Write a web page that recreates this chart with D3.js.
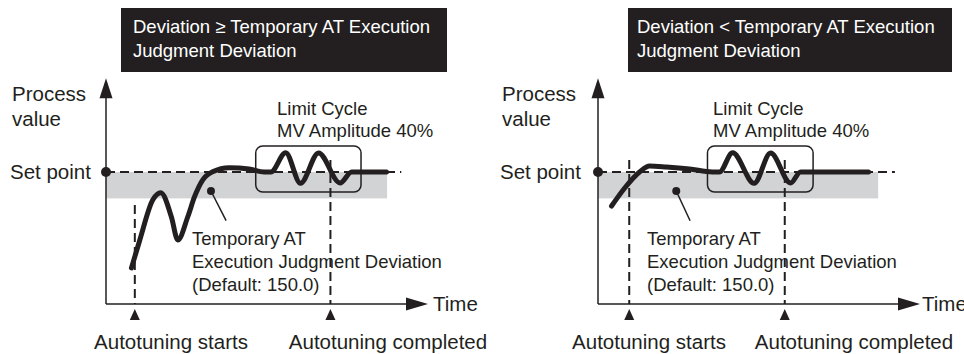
<!DOCTYPE html>
<html>
<head>
<meta charset="utf-8">
<script src="https://cdn.jsdelivr.net/npm/d3@7"></script>
<style>
  html, body { margin: 0; padding: 0; background: #ffffff; }
  svg { display: block; }
  text { font-family: "Liberation Sans", Arial, Helvetica, sans-serif; fill: #231f20; }
</style>
</head>
<body>
<svg id="chart" width="964" height="354"></svg>
<script>
// ---------------- DATA ----------------
// time axis 0..100, process value axis 0..100 (set point = 100)
const setPoint = 100;
const judgmentDeviation = 20;          // shaded band below set point
const axisTopValue = 171;              // where the process value arrow ends
const panelTitles = [
  ["Deviation \u2265 Temporary AT Execution", "Judgment Deviation"],
  ["Deviation < Temporary AT Execution", "Judgment Deviation"]
];
const yAxisLabel = ["Process", "value"];
const setPointLabel = "Set point";
const xAxisLabel = "Time";
const limitCycleLabel = ["Limit Cycle", "MV Amplitude 40%"];
const deviationLabel = ["Temporary AT", "Execution Judgment Deviation", "(Default: 150.0)"];
const startLabel = "Autotuning starts";
const completeLabel = "Autotuning completed";

// Process value curves (time, value)
const curveLeftTime  = [7.9, 10.5, 14.5, 17.0, 20.3, 22.3, 25.4, 27.5, 30.0, 33.1, 38.3, 44.4, 49.1, 51.2, 55.8, 60.4, 66.0, 72.7, 76.3, 87.1];
const curveLeftValue = [27.3, 48.5, 78.8, 84.3, 66.1, 48.5, 66.1, 81.3, 93.9, 100.2, 103.3, 102.3, 100, 100, 114.6, 91.4, 114.4, 91.7, 100, 100];
const curveRightTime  = [4.2, 8.3, 13.0, 16.0, 21.2, 28.4, 35.5, 37.7, 41.8, 48.5, 53.6, 59.8, 62.9, 84.0];
const curveRightValue = [74.2, 87.9, 100.2, 104.5, 103.8, 102.3, 100, 100, 114.6, 91.4, 114.4, 91.7, 100, 100];

// Autotuning start / completion times
const atStartTime    = [8.95, 9.7];
const atStartTop     = [75, 109];
const atCompleteTime = [69.7, 58.0];
const atCompleteTop  = [109, 109];

// Limit cycle box (time range) and value range
const limitBoxTime  = [[46.5, 79.2], [34.0, 66.8]];
const limitBoxValue = [84.8, 119.7];

// band and set-point line extents (time)
const bandEndTime = [87.3, 87.0];
const setLineEndTime = [91.7, 92.2];

// pointer from band to the deviation label (time, value)
const pointerFromTime = [32.6, 24.3];
const pointerToTime   = [37.3, 28.6];
const pointerFromValue = 85.6;
const pointerToValue   = 63.1;

// ---------------- LAYOUT ----------------
const ink = "#231f20";
const panels = [
  { x0: 106, titleBox: [121, 447], titleX: 133, labelX: 12, timeX: 433,
    limitX: 277, devX: 192, startX: 171, completeX: 388 },
  { x0: 598, titleBox: [628, 952], titleX: 637, labelX: 502, timeX: 922,
    limitX: 713, devX: 647, startX: 649, completeX: 854 }
];
const axisWidth = 322;
const svg = d3.select("#chart");

panels.forEach((p, i) => {
  const x = d3.scaleLinear().domain([0, 100]).range([p.x0, p.x0 + axisWidth]);
  const y = d3.scaleLinear().domain([0, 100]).range([304, 172]);
  const g = svg.append("g");

  // title box
  g.append("rect")
    .attr("x", p.titleBox[0]).attr("y", 8)
    .attr("width", p.titleBox[1] - p.titleBox[0]).attr("height", 64)
    .attr("fill", ink);
  panelTitles[i].forEach((t, k) => {
    g.append("text").attr("x", p.titleX).attr("y", 33 + k * 24)
      .style("fill", "#ffffff").style("font-size", "18.5px").text(t);
  });

  // shaded band
  g.append("rect")
    .attr("x", x(0)).attr("y", y(setPoint))
    .attr("width", x(bandEndTime[i]) - x(0))
    .attr("height", y(setPoint - judgmentDeviation) - y(setPoint))
    .attr("fill", "#d1d3d4");

  // set point dashed line
  g.append("line")
    .attr("x1", x(0)).attr("x2", x(setLineEndTime[i]))
    .attr("y1", y(setPoint)).attr("y2", y(setPoint))
    .attr("stroke", ink).attr("stroke-width", 2).attr("stroke-dasharray", "9,5");

  // limit cycle box
  g.append("rect")
    .attr("x", x(limitBoxTime[i][0])).attr("y", y(limitBoxValue[1]))
    .attr("width", x(limitBoxTime[i][1]) - x(limitBoxTime[i][0]))
    .attr("height", y(limitBoxValue[0]) - y(limitBoxValue[1]))
    .attr("rx", 7).attr("fill", "none").attr("stroke", ink).attr("stroke-width", 1.5);

  // autotuning vertical dashed lines
  [[atStartTime[i], atStartTop[i]], [atCompleteTime[i], atCompleteTop[i]]].forEach(([t, top]) => {
    g.append("line")
      .attr("x1", x(t)).attr("x2", x(t))
      .attr("y1", y(top)).attr("y2", y(0))
      .attr("stroke", ink).attr("stroke-width", 2).attr("stroke-dasharray", "9,5");
    g.append("path")
      .attr("d", `M${x(t)},${y(0) + 5} L${x(t) - 5},${y(0) + 16} L${x(t) + 5},${y(0) + 16} Z`)
      .attr("fill", ink);
  });

  // process value curve
  const times = i === 0 ? curveLeftTime : curveRightTime;
  const vals = i === 0 ? curveLeftValue : curveRightValue;
  const pts = times.map((t, k) => [t, vals[k]]);
  g.append("path")
    .datum(pts)
    .attr("d", d3.line().x(d => x(d[0])).y(d => y(d[1])).curve(d3.curveMonotoneX))
    .attr("fill", "none").attr("stroke", ink).attr("stroke-width", 5)
    .attr("stroke-linecap", "round").attr("stroke-linejoin", "round");

  // axes
  g.append("line")
    .attr("x1", x(0)).attr("x2", x(0))
    .attr("y1", y(0)).attr("y2", y(axisTopValue) + 10)
    .attr("stroke", ink).attr("stroke-width", 1.5);
  g.append("path")
    .attr("d", `M${x(0)},${y(axisTopValue)} L${x(0) - 6.5},${y(axisTopValue) + 20} L${x(0) + 6.5},${y(axisTopValue) + 20} Z`)
    .attr("fill", ink);
  g.append("line")
    .attr("x1", x(0)).attr("x2", x(100) - 10)
    .attr("y1", y(0)).attr("y2", y(0))
    .attr("stroke", ink).attr("stroke-width", 1.5);
  g.append("path")
    .attr("d", `M${x(100)},${y(0)} L${x(100) - 22},${y(0) - 6.5} L${x(100) - 22},${y(0) + 6.5} Z`)
    .attr("fill", ink);

  // set point dot
  g.append("circle").attr("cx", x(0)).attr("cy", y(setPoint)).attr("r", 5).attr("fill", ink);

  // pointer
  g.append("circle").attr("cx", x(pointerFromTime[i])).attr("cy", y(pointerFromValue)).attr("r", 4).attr("fill", ink);
  g.append("line")
    .attr("x1", x(pointerFromTime[i])).attr("y1", y(pointerFromValue))
    .attr("x2", x(pointerToTime[i])).attr("y2", y(pointerToValue))
    .attr("stroke", ink).attr("stroke-width", 1.5);

  // labels
  yAxisLabel.forEach((t, k) => {
    g.append("text").attr("x", p.labelX).attr("y", 101 + k * 25).style("font-size", "20.5px").text(t);
  });
  g.append("text").attr("x", p.labelX - 2).attr("y", 179).style("font-size", "20.5px").text(setPointLabel);
  g.append("text").attr("x", p.timeX).attr("y", 311).style("font-size", "20.5px").text(xAxisLabel);

  limitCycleLabel.forEach((t, k) => {
    g.append("text").attr("x", p.limitX).attr("y", 115 + k * 22).style("font-size", "18.5px").text(t);
  });
  deviationLabel.forEach((t, k) => {
    g.append("text").attr("x", p.devX).attr("y", 245 + k * 23).style("font-size", "18.5px").text(t);
  });

  g.append("text").attr("x", p.startX).attr("y", 349).attr("text-anchor", "middle")
    .style("font-size", "20.5px").text(startLabel);
  g.append("text").attr("x", p.completeX).attr("y", 349).attr("text-anchor", "middle")
    .style("font-size", "20.5px").text(completeLabel);
});
</script>
</body>
</html>
